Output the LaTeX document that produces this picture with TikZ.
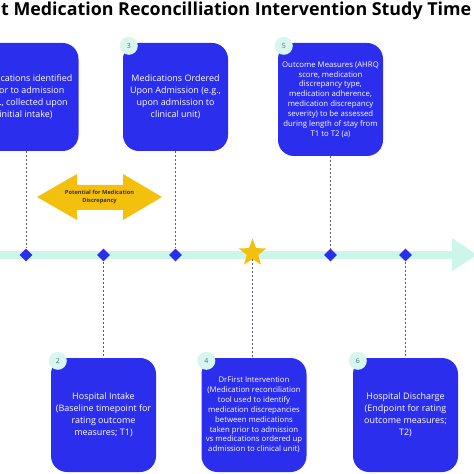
\documentclass[tikz,border=0pt]{standalone}
\usepackage{fontspec}
\setmainfont{Open Sans}
\usetikzlibrary{shapes.geometric,calc}
\definecolor{boxblue}{RGB}{44,46,238}
\definecolor{mint}{RGB}{204,246,234}
\definecolor{badgemint}{RGB}{216,246,237}
\definecolor{badgetext}{RGB}{62,122,132}
\definecolor{goldy}{RGB}{244,192,14}
\definecolor{dashgray}{RGB}{95,95,105}
\definecolor{arrowtext}{RGB}{60,50,20}
\begin{document}
\begin{tikzpicture}[x=1bp,y=-1bp,
  box/.style={fill=boxblue, rounded corners=16bp, minimum width=105bp, inner sep=0pt,
    text=white, align=center},
  bigtext/.style={font=\fontsize{9}{12.2}\selectfont},
  smalltext/.style={font=\fontsize{7.8}{9.9}\selectfont},
  badge/.style={circle, fill=badgemint, minimum size=18bp, inner sep=0pt,
    text=badgetext, font=\fontsize{7}{8}\selectfont},
  markdia/.style={diamond, fill=boxblue, minimum size=13bp, inner sep=0pt},
  guide/.style={draw=dashgray, line width=0.9bp, dash pattern=on 2.2bp off 1.8bp}
]
\useasboundingbox (0,0) rectangle (474,474);
\clip (0,0) rectangle (474,474);

% title
\node[anchor=base west, inner sep=0pt, font=\bfseries] (title) at (1,16)
  {\resizebox{470bp}{!}{t Medication Reconcilliation Intervention Study Time}};

% timeline
\coordinate (tl0) at (0,255);
\coordinate (tl1) at (452,255);
\coordinate (tlt) at (477,255);
\draw[mint, line width=8bp] (tl0) -- (tl1);
\fill[mint] ($(tl1)+(0,-17)$) -- (tlt) -- ($(tl1)+(0,16)$) -- cycle;

% top boxes
\node[box, minimum height=108bp, bigtext] (b1) at (26,97)
  {Medications identified\\prior to admission\\(e.g., collected upon\\initial intake)};
\node[box, minimum height=108bp, bigtext] (b3) at (175.5,97)
  {Medications Ordered\\Upon Admission (e.g.,\\upon admission to\\clinical unit)};
\node[box, minimum height=113bp, smalltext] (b5) at (330.5,99.5)
  {Outcome Measures (AHRQ\\score, medication\\discrepancy type,\\medication adherence,\\medication discrepancy\\severity) to be assessed\\during length of stay from\\T1 to T2 (a)};

% bottom boxes
\node[box, minimum height=114bp, bigtext] (b2) at (103.5,415)
  {Hospital Intake\\(Baseline timepoint for\\rating outcome\\measures; T1)};
\node[box, minimum height=114bp, smalltext] (b4) at (254,415)
  {DrFirst Intervention\\(Medication reconciliation\\tool used to identify\\medication discrepancies\\between medications\\taken prior to admission\\vs medications ordered up\\admission to clinical unit)};
\node[box, minimum height=114bp, bigtext] (b6) at (405.5,415)
  {Hospital Discharge\\(Endpoint for rating\\outcome measures;\\T2)};

% badges
\node[badge] (p3) at ($(b3.north west)+(6,3)$) {3};
\node[badge] (p5) at ($(b5.north west)+(6,3)$) {5};
\node[badge] (p2) at ($(b2.north west)+(7,3)$) {2};
\node[badge] (p4) at ($(b4.north west)+(5,3)$) {4};
\node[badge] (p6) at ($(b6.north west)+(5,3)$) {6};

% markers on the timeline
\node[markdia] (d1) at (26,255) {};
\node[markdia] (d2) at (103.5,255) {};
\node[markdia] (d3) at (175.5,255) {};
\node[star, star points=5, star point ratio=2.4, fill=goldy, minimum size=29bp, inner sep=0pt] (d4) at (252.5,253) {};
\node[markdia] (d5) at (330.5,255) {};
\node[markdia] (d6) at (405.5,255) {};

% dashed guides
\draw[guide] (b1.south) -- (d1.north);
\draw[guide] (b3.south) -- (d3.north);
\draw[guide] (b5.south) -- (d5.north);
\draw[guide] (d2.south) -- (b2.north);
\draw[guide] (d4.south) -- (b4.north -| d4.south);
\draw[guide] (d6.south) -- (b6.north);

% double arrow
\fill[goldy] (37,197) -- (77,174) -- (77,185) -- (123,185) -- (123,174) -- (162,197)
  -- (123,220) -- (123,210) -- (77,210) -- (77,220) -- cycle;
\node[align=center, text=arrowtext, font=\bfseries\fontsize{5.7}{8}\selectfont, inner sep=0pt]
  (pot) at (99.5,197) {Potential for Medication\\Discrepancy};
\end{tikzpicture}
\end{document}
